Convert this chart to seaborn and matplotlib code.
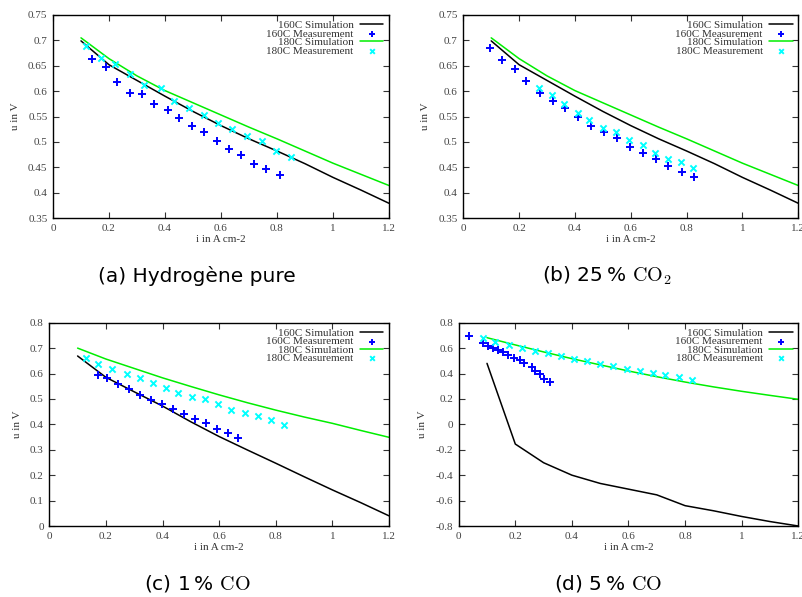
import numpy as np
import pandas as pd
import matplotlib
matplotlib.use("Agg")
import matplotlib.pyplot as plt
import seaborn as sns

# ---------------- data ----------------
sim_x = [0.1, 0.2, 0.3, 0.4, 0.5, 0.6, 0.7, 0.8, 0.9, 1.0, 1.1, 1.2]

# (a) pure hydrogen
a_sim160 = [0.699, 0.652, 0.621, 0.590, 0.560, 0.532, 0.506, 0.482, 0.457, 0.430, 0.405, 0.379]
a_sim180 = [0.705, 0.664, 0.630, 0.601, 0.577, 0.553, 0.529, 0.506, 0.482, 0.458, 0.436, 0.414]
a_m160_x = [0.139, 0.188, 0.229, 0.275, 0.319, 0.360, 0.409, 0.450, 0.497, 0.540, 0.587, 0.630, 0.672, 0.717, 0.760, 0.810]
a_m160_y = [0.664, 0.648, 0.618, 0.596, 0.594, 0.575, 0.562, 0.547, 0.532, 0.519, 0.501, 0.486, 0.475, 0.457, 0.446, 0.435]
a_m180_x = [0.119, 0.172, 0.223, 0.276, 0.325, 0.385, 0.433, 0.487, 0.540, 0.590, 0.641, 0.694, 0.748, 0.797, 0.851]
a_m180_y = [0.688, 0.666, 0.653, 0.634, 0.612, 0.607, 0.581, 0.566, 0.553, 0.538, 0.526, 0.511, 0.501, 0.482, 0.470]

# (b) 25 % CO2
b_sim160 = [0.699, 0.652, 0.621, 0.590, 0.560, 0.532, 0.506, 0.482, 0.457, 0.430, 0.405, 0.379]
b_sim180 = [0.705, 0.664, 0.630, 0.601, 0.577, 0.553, 0.529, 0.506, 0.482, 0.458, 0.436, 0.414]
b_m160_x = [0.096, 0.139, 0.185, 0.226, 0.275, 0.321, 0.363, 0.410, 0.459, 0.503, 0.549, 0.597, 0.645, 0.690, 0.734, 0.782, 0.826]
b_m160_y = [0.685, 0.661, 0.643, 0.619, 0.596, 0.581, 0.566, 0.550, 0.532, 0.519, 0.507, 0.489, 0.479, 0.466, 0.453, 0.440, 0.430]
b_m180_x = [0.272, 0.316, 0.361, 0.411, 0.451, 0.502, 0.547, 0.595, 0.642, 0.688, 0.732, 0.780, 0.823]
b_m180_y = [0.606, 0.593, 0.574, 0.557, 0.543, 0.528, 0.519, 0.504, 0.493, 0.479, 0.467, 0.460, 0.448]

# (c) 1 % CO
c_sim160 = [0.669, 0.585, 0.528, 0.472, 0.410, 0.352, 0.299, 0.247, 0.194, 0.142, 0.092, 0.040]
c_sim180 = [0.700, 0.657, 0.620, 0.583, 0.549, 0.516, 0.485, 0.456, 0.429, 0.404, 0.376, 0.349]
c_m160_x = [0.171, 0.203, 0.243, 0.280, 0.320, 0.358, 0.398, 0.437, 0.476, 0.513, 0.555, 0.591, 0.630, 0.668]
c_m160_y = [0.594, 0.581, 0.560, 0.540, 0.517, 0.497, 0.479, 0.460, 0.441, 0.420, 0.407, 0.380, 0.366, 0.348]
c_m180_x = [0.130, 0.172, 0.223, 0.273, 0.320, 0.366, 0.411, 0.456, 0.504, 0.551, 0.597, 0.643, 0.691, 0.736, 0.782, 0.828]
c_m180_y = [0.662, 0.639, 0.618, 0.598, 0.582, 0.561, 0.542, 0.523, 0.508, 0.498, 0.481, 0.458, 0.445, 0.431, 0.417, 0.397]

# (d) 5 % CO
d_sim160 = [0.480, -0.155, -0.302, -0.400, -0.465, -0.510, -0.555, -0.640, -0.680, -0.725, -0.765, -0.800]
d_sim180 = [0.682, 0.625, 0.570, 0.517, 0.468, 0.420, 0.375, 0.333, 0.295, 0.260, 0.228, 0.197]
d_m160_x = [0.038, 0.087, 0.105, 0.122, 0.138, 0.158, 0.173, 0.197, 0.217, 0.231, 0.258, 0.268, 0.288, 0.303, 0.324]
d_m160_y = [0.698, 0.640, 0.619, 0.603, 0.582, 0.567, 0.543, 0.525, 0.506, 0.480, 0.451, 0.417, 0.393, 0.359, 0.330]
d_m180_x = [0.085, 0.127, 0.179, 0.225, 0.268, 0.315, 0.363, 0.406, 0.452, 0.499, 0.545, 0.594, 0.641, 0.688, 0.730, 0.777, 0.825]
d_m180_y = [0.677, 0.645, 0.627, 0.603, 0.577, 0.559, 0.535, 0.514, 0.496, 0.475, 0.459, 0.438, 0.422, 0.401, 0.386, 0.370, 0.346]

series_labels = ["160C Simulation", "160C Measurement", "180C Simulation", "180C Measurement"]
captions = ["(a) Hydrog\u00e8ne pure", "(b) 25\u2009% $\\mathrm{CO}_2$", "(c) 1\u2009% $\\mathrm{CO}$", "(d) 5\u2009% $\\mathrm{CO}$"]
y_limits = [(0.35, 0.75), (0.35, 0.75), (0.0, 0.8), (-0.8, 0.8)]
y_ticks = [np.arange(0.35, 0.751, 0.05), np.arange(0.35, 0.751, 0.05),
           np.arange(0.0, 0.801, 0.1), np.arange(-0.8, 0.801, 0.2)]
x_ticks = [0, 0.2, 0.4, 0.6, 0.8, 1.0, 1.2]

panels = [
    (a_sim160, a_sim180, a_m160_x, a_m160_y, a_m180_x, a_m180_y),
    (b_sim160, b_sim180, b_m160_x, b_m160_y, b_m180_x, b_m180_y),
    (c_sim160, c_sim180, c_m160_x, c_m160_y, c_m180_x, c_m180_y),
    (d_sim160, d_sim180, d_m160_x, d_m160_y, d_m180_x, d_m180_y),
]

# ---------------- style ----------------
sns.set_theme(style="ticks")
plt.rcParams["font.family"] = ["Liberation Serif", "DejaVu Serif"]
plt.rcParams["mathtext.fontset"] = "cm"
plt.rcParams["axes.linewidth"] = 1.0

W, H = 803, 597
fig = plt.figure(figsize=(W / 100, H / 100), dpi=100)

def px_rect(l, t, r, b):
    return [l / W, 1 - b / H, (r - l) / W, (b - t) / H]

rects = [
    px_rect(53, 15, 389, 218),
    px_rect(463.3, 15, 798.3, 218),
    px_rect(49.3, 322.7, 389, 526),
    px_rect(458.7, 322.7, 798.3, 526),
]

cap_pos = [(197, 276), (607, 276), (197, 583), (608, 583)]

for i, (rect, data) in enumerate(zip(rects, panels)):
    s160, s180, m160x, m160y, m180x, m180y = data
    ax = fig.add_axes(rect)
    sim_df = pd.DataFrame({"x": sim_x, "y160": s160, "y180": s180})
    sns.lineplot(data=sim_df, x="x", y="y160", ax=ax, color="black", lw=1.1,
                 label=series_labels[0])
    sns.scatterplot(x=m160x, y=m160y, ax=ax, marker="+", color="#0000ff", s=26,
                    linewidth=1.4, label=series_labels[1], zorder=3)
    sns.lineplot(data=sim_df, x="x", y="y180", ax=ax, color="#00ee00", lw=1.1,
                 label=series_labels[2])
    sns.scatterplot(x=m180x, y=m180y, ax=ax, marker="x", color="#00ffff", s=20,
                    linewidth=1.4, label=series_labels[3], zorder=3)

    ax.set_xlim(0, 1.2)
    ax.set_ylim(*y_limits[i])
    ax.set_xticks(x_ticks)
    ax.set_xticklabels(["0", "0.2", "0.4", "0.6", "0.8", "1", "1.2"])
    ax.set_yticks(y_ticks[i])
    yt = y_ticks[i]
    ax.set_yticklabels([("%g" % round(v, 2)) if abs(v) > 1e-9 else "0" for v in yt])
    ax.tick_params(direction="in", top=True, right=True, length=4, width=0.8,
                   labelsize=8, pad=4, colors="#333333", labelcolor="#444444")
    for sp in ax.spines.values():
        sp.set_visible(True)
        sp.set_color("black")
        sp.set_linewidth(1.0)
    ax.set_xlabel("i in A cm-2", fontsize=8, labelpad=2, color="#333333")
    ax.set_ylabel("u in V", fontsize=8, labelpad=6, color="#333333")
    leg = ax.legend(loc="upper right", frameon=False, markerfirst=False,
                    fontsize=8, handlelength=2.1, handletextpad=0.6,
                    labelspacing=-0.12, borderaxespad=0.3, borderpad=0.2,
                    markerscale=0.75)
    for t in leg.get_texts():
        t.set_color("#333333")

    fig.text(cap_pos[i][0] / W, 1 - cap_pos[i][1] / H, captions[i],
             ha="center", va="center", fontsize=14.5,
             family=["DejaVu Sans"], color="black")

fig.savefig("out.png", dpi=100)
